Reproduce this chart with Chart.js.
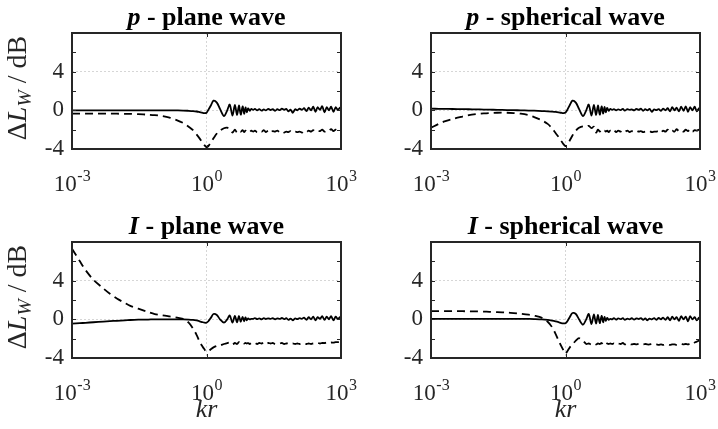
<!DOCTYPE html>
<html>
<head>
<meta charset="utf-8">
<script src="https://cdn.jsdelivr.net/npm/chart.js@4.4.1/dist/chart.umd.min.js"></script>
<style>
    html, body { margin: 0; padding: 0; background: #fff; }
    #wrap { position: relative; width: 718px; height: 429px; overflow: hidden; }
    #wrap canvas { position: absolute; }
    .title { position: absolute; width: 300px; text-align: center; font: bold 26px "Liberation Serif", serif; line-height: 26px; color: #000; white-space: nowrap; }
    .ylab { position: absolute; width: 160px; height: 30px; line-height: 30px; text-align: center; font: 28px "Liberation Serif", serif; color: #262626; transform: rotate(-90deg); white-space: nowrap; }
    .ylab sub { font-size: 70%; vertical-align: -0.25em; }
    .xlab { position: absolute; width: 100px; text-align: center; font: italic 26px "Liberation Serif", serif; line-height: 26px; color: #262626; }
</style>
</head>
<body>
<div id="wrap">
    <canvas id="c0" width="359" height="210" style="left:0;top:0"></canvas>
    <canvas id="c1" width="359" height="210" style="left:359px;top:0"></canvas>
    <canvas id="c2" width="359" height="219" style="left:0;top:210px"></canvas>
    <canvas id="c3" width="359" height="219" style="left:359px;top:210px"></canvas>
</div>
<script>
// kr values shared by every curve
const kr = [
    0.001, 0.0015, 0.002, 0.003, 0.005, 0.007, 0.01, 0.015, 0.02, 0.03, 0.05, 0.07, 0.1, 0.15, 0.2, 0.3, 0.4, 0.5, 0.6, 0.7, 0.8, 0.9,
    1.0, 1.1, 1.25, 1.43, 1.7, 2.0, 2.45, 2.9, 3.3, 3.8, 4.3, 4.8, 5.3, 5.8, 6.4, 6.9, 7.4, 7.9, 8.5, 9.2, 10,
    11, 12, 13.5, 15, 17, 19, 21, 24, 27, 30, 34, 38, 43, 48, 54, 60, 67, 75, 84, 95, 106, 120, 135, 150, 170,
    190, 215, 240, 270, 300, 340, 380, 430, 480, 540, 600, 680, 760, 850, 950, 1000
];

// p - plane wave
const pPlaneSolid = [
    0, 0, 0, 0, 0, 0, 0, 0, 0, 0, 0, 0, 0, 0, -0.01, -0.02, -0.05, -0.08, -0.12, -0.18, -0.24, -0.28,
    -0.25, 0.05, 0.5, 1.0, 0.8, 0.15, -0.6, 0.0, 0.6, -0.55, 0.55, -0.5, 0.5, -0.45, 0.4, -0.35, 0.3, -0.2, 0.2, -0.05, 0.15,
    0.05, 0.15, 0.0, 0.12, -0.03, 0.1, 0.0, 0.15, 0.03, 0.12, -0.05, 0.12, 0.02, 0.18, 0.05, 0.15, -0.1, 0.08, -0.25, 0.12,
    0.0, 0.18, 0.05, 0.22, -0.08, 0.28, 0.0, 0.38, -0.15, 0.32, 0.05, 0.42, -0.2, 0.32, 0.0, 0.38, -0.15, 0.32, 0.05, 0.28, 0.1
];
const pPlaneDash = [
    -0.35, -0.35, -0.35, -0.35, -0.35, -0.35, -0.35, -0.36, -0.37, -0.4, -0.45, -0.5, -0.58, -0.75, -0.95, -1.3, -1.7, -2.05, -2.5, -2.9, -3.3, -3.6,
    -3.8, -3.7, -3.3, -2.9, -2.4, -2.1, -1.85, -1.8, -1.9, -2.3, -2.0, -2.3, -2.1, -2.2, -2.05, -2.25, -2.1, -2.2, -2.15, -2.25, -2.1,
    -2.2, -2.1, -2.25, -2.1, -2.2, -2.05, -2.25, -2.1, -2.3, -2.15, -2.2, -2.1, -2.25, -2.15, -2.3, -2.2, -2.25, -2.15, -2.3, -2.2,
    -2.25, -2.2, -2.3, -2.15, -2.25, -2.1, -2.2, -2.05, -2.2, -2.1, -2.15, -2.0, -2.2, -2.05, -2.1, -1.95, -2.15, -2.0, -2.05, -1.9, -1.95
];

// p - spherical wave
const pSphSolid = [
    0.17, 0.16, 0.15, 0.14, 0.12, 0.11, 0.1, 0.08, 0.07, 0.05, 0.03, 0.02, 0.0, -0.02, -0.04, -0.08, -0.1, -0.13, -0.16, -0.2, -0.25, -0.28,
    -0.22, 0.05, 0.55, 1.0, 0.8, 0.15, -0.6, 0.0, 0.6, -0.55, 0.55, -0.5, 0.5, -0.45, 0.4, -0.35, 0.35, -0.2, 0.25, -0.05, 0.15,
    0.05, 0.12, 0.0, 0.1, 0.03, 0.15, -0.03, 0.12, 0.05, 0.1, 0.0, 0.15, 0.05, 0.18, -0.05, 0.12, 0.0, 0.15, -0.15, 0.1,
    0.02, 0.12, -0.05, 0.18, 0.0, 0.22, -0.1, 0.32, 0.0, 0.28, -0.1, 0.38, -0.05, 0.42, -0.15, 0.32, 0.0, 0.38, -0.1, 0.22, 0.1
];
const pSphDash = [
    -1.8, -1.4, -1.15, -0.9, -0.65, -0.5, -0.4, -0.32, -0.28, -0.25, -0.25, -0.28, -0.35, -0.5, -0.7, -1.05, -1.4, -1.85, -2.35, -2.75, -3.15, -3.5,
    -3.7, -3.55, -3.1, -2.6, -2.1, -1.8, -1.65, -1.7, -1.6, -1.85, -1.7, -2.3, -2.0, -2.2, -2.05, -2.2, -2.1, -2.2, -2.1, -2.25, -2.1,
    -2.2, -2.05, -2.25, -2.1, -2.2, -2.05, -2.2, -2.1, -2.25, -2.15, -2.2, -2.1, -2.2, -2.15, -2.25, -2.2, -2.2, -2.15, -2.25, -2.2,
    -2.2, -2.15, -2.3, -2.1, -2.2, -2.0, -2.25, -2.1, -2.2, -1.95, -2.15, -2.05, -2.2, -2.0, -2.15, -1.95, -2.2, -2.05, -2.1, -2.0, -2.1
];

// I - plane wave
const iPlaneSolid = [
    -0.45, -0.4, -0.36, -0.3, -0.24, -0.19, -0.15, -0.1, -0.07, -0.04, -0.02, 0.0, 0.0, 0.0, 0.0, 0.0, -0.02, -0.06, -0.12, -0.2, -0.28, -0.35,
    -0.35, -0.2, 0.15, 0.55, 0.45, 0.0, -0.35, 0.0, 0.4, -0.35, 0.35, -0.3, 0.35, -0.25, 0.25, -0.2, 0.2, -0.1, 0.1, 0.0, 0.05,
    0.05, 0.12, 0.02, 0.1, 0.0, 0.12, 0.03, 0.1, 0.05, 0.12, 0.0, 0.1, 0.05, 0.14, 0.02, 0.12, -0.05, 0.08, -0.1, 0.1,
    0.02, 0.12, 0.05, 0.18, -0.05, 0.22, 0.0, 0.28, -0.1, 0.22, 0.05, 0.32, -0.05, 0.28, 0.0, 0.32, -0.1, 0.28, 0.05, 0.22, 0.1
];
const iPlaneDash = [
    7.3, 6.0, 5.1, 4.1, 3.2, 2.65, 2.15, 1.7, 1.4, 1.1, 0.75, 0.55, 0.42, 0.3, 0.22, 0.05, -0.35, -0.95, -1.6, -2.3, -2.75, -3.1,
    -3.35, -3.3, -3.1, -2.9, -2.75, -2.7, -2.55, -2.45, -2.4, -2.6, -2.45, -2.55, -2.35, -2.5, -2.4, -2.5, -2.45, -2.5, -2.45, -2.55, -2.45,
    -2.5, -2.45, -2.55, -2.45, -2.5, -2.4, -2.55, -2.45, -2.5, -2.45, -2.55, -2.5, -2.5, -2.45, -2.55, -2.5, -2.5, -2.55, -2.5, -2.55,
    -2.5, -2.55, -2.5, -2.55, -2.55, -2.5, -2.55, -2.5, -2.5, -2.45, -2.5, -2.45, -2.45, -2.4, -2.45, -2.4, -2.4, -2.35, -2.35, -2.3, -2.3
];

// I - spherical wave
const iSphSolid = [
    0.05, 0.05, 0.05, 0.05, 0.05, 0.05, 0.05, 0.05, 0.05, 0.05, 0.05, 0.05, 0.05, 0.04, 0.03, 0.0, -0.06, -0.14, -0.22, -0.3, -0.38, -0.42,
    -0.4, -0.2, 0.25, 0.65, 0.55, 0.0, -0.55, 0.0, 0.55, -0.5, 0.5, -0.45, 0.45, -0.4, 0.35, -0.3, 0.25, -0.15, 0.15, -0.05, 0.05,
    0.0, 0.12, -0.03, 0.1, 0.02, 0.12, -0.05, 0.08, 0.0, 0.12, -0.03, 0.1, 0.03, 0.12, -0.05, 0.1, -0.1, 0.08, 0.0, 0.12,
    -0.05, 0.14, 0.0, 0.18, -0.05, 0.22, -0.1, 0.28, 0.0, 0.22, -0.15, 0.32, 0.0, 0.28, -0.2, 0.32, 0.0, 0.22, -0.1, 0.18, 0.0
];
const iSphDash = [
    0.85, 0.85, 0.85, 0.85, 0.84, 0.83, 0.82, 0.8, 0.78, 0.75, 0.7, 0.65, 0.58, 0.48, 0.38, 0.15, -0.25, -0.8, -1.5, -2.2, -2.75, -3.2,
    -3.55, -3.3, -2.9, -2.6, -2.2, -1.95, -2.2, -2.55, -2.5, -2.6, -2.5, -2.6, -2.5, -2.55, -2.45, -2.6, -2.5, -2.6, -2.5, -2.55, -2.5,
    -2.55, -2.5, -2.6, -2.5, -2.55, -2.45, -2.6, -2.5, -2.55, -2.6, -2.55, -2.6, -2.55, -2.6, -2.6, -2.55, -2.6, -2.6, -2.55, -2.6,
    -2.6, -2.65, -2.6, -2.65, -2.6, -2.6, -2.65, -2.6, -2.6, -2.65, -2.6, -2.55, -2.6, -2.55, -2.6, -2.5, -2.55, -2.4, -2.3, -2.2, -2.3
];

// panel texts and ticks
const titleSymbols = ['p', 'p', 'I', 'I'];
const titleTexts = [' - plane wave', ' - spherical wave', ' - plane wave', ' - spherical wave'];
const xTickValues = [1e-3, 1e0, 1e3];
const xTickExponents = ['-3', '0', '3'];
const yTickLabels = ['-4', '0', '4'];
const yLabelHtml = '&Delta;<i>L</i><sub><i>W</i></sub> / dB';
const xLabelText = 'kr';

const axisColor = '#262626';
const gridColor = '#d6d6d6';

[pPlaneSolid, pPlaneDash, pSphSolid, pSphDash, iPlaneSolid, iPlaneDash, iSphSolid, iSphDash].forEach((arr, i) => {
    if (arr.length !== kr.length) throw new Error('series ' + i + ' has ' + arr.length + ' values, kr has ' + kr.length);
});

const framePlugin = {
    id: 'frame',
    afterDraw(chart) {
        const ctx = chart.ctx;
        const a = chart.chartArea;
        const xs = chart.scales.x, ys = chart.scales.y;
        ctx.save();
        ctx.strokeStyle = axisColor;
        ctx.lineWidth = 1;
        ctx.beginPath();
        [-2, 0, 2, 4, 6].forEach(v => {
            const py = Math.round(ys.getPixelForValue(v)) + 0.5;
            ctx.moveTo(a.left, py); ctx.lineTo(a.left + 4, py);
            ctx.moveTo(a.right - 4, py); ctx.lineTo(a.right, py);
        });
        const px1 = Math.round(xs.getPixelForValue(1)) + 0.5;
        ctx.moveTo(px1, a.bottom); ctx.lineTo(px1, a.bottom - 4);
        ctx.moveTo(px1, a.top); ctx.lineTo(px1, a.top + 4);
        ctx.stroke();
        ctx.lineWidth = 2;
        ctx.strokeRect(a.left, a.top, a.right - a.left, a.bottom - a.top);

        // x tick labels: 10 with a raised exponent
        ctx.fillStyle = axisColor;
        ctx.textBaseline = 'alphabetic';
        ctx.textAlign = 'left';
        xTickValues.forEach((v, i) => {
            const px = xs.getPixelForValue(v);
            ctx.font = '23px "Liberation Serif"';
            const w1 = ctx.measureText('10').width;
            ctx.font = '16px "Liberation Serif"';
            const w2 = ctx.measureText(xTickExponents[i]).width;
            const x0 = px - (w1 + w2) / 2;
            const base = a.bottom + 42;
            ctx.font = '23px "Liberation Serif"';
            ctx.fillText('10', x0, base);
            ctx.font = '16px "Liberation Serif"';
            ctx.fillText(xTickExponents[i], x0 + w1 + 0.5, base - 10);
        });
        ctx.restore();
    }
};

function makeChart(id, solid, dashed, top, xAxisHeight) {
    const ctx = document.getElementById(id).getContext('2d');
    return new Chart(ctx, {
        type: 'line',
        data: {
            datasets: [
                {
                    data: kr.map((k, i) => ({x: k, y: solid[i]})),
                    borderColor: '#000',
                    borderWidth: 1.8,
                    pointRadius: 0,
                    tension: 0.3
                },
                {
                    data: kr.map((k, i) => ({x: k, y: dashed[i]})),
                    borderColor: '#000',
                    borderWidth: 1.8,
                    borderDash: [8, 5],
                    pointRadius: 0,
                    tension: 0.3
                }
            ]
        },
        options: {
            responsive: false,
            animation: false,
            layout: { padding: { top: top, right: 18, left: 0, bottom: 0 } },
            plugins: { legend: { display: false }, tooltip: { enabled: false } },
            scales: {
                x: {
                    type: 'logarithmic',
                    min: 1e-3,
                    max: 1e3,
                    afterBuildTicks: s => { s.ticks = xTickValues.map(v => ({value: v})); },
                    afterFit: s => { s.height = xAxisHeight; },
                    ticks: { display: false },
                    border: { display: false, dash: [2, 2] },
                    grid: {
                        drawTicks: false,
                        lineWidth: 1,
                        color: c => (c.tick && c.tick.value === 1) ? gridColor : 'rgba(0,0,0,0)'
                    }
                },
                y: {
                    min: -4,
                    max: 8,
                    afterFit: s => { s.width = 72; },
                    ticks: {
                        stepSize: 2,
                        padding: 8,
                        color: axisColor,
                        font: { family: 'Liberation Serif', size: 23 },
                        callback: v => yTickLabels.includes(String(v)) ? String(v) : ''
                    },
                    border: { display: false, dash: [2, 2] },
                    grid: {
                        drawTicks: false,
                        lineWidth: 1,
                        color: c => (c.tick && (c.tick.value === -4 || c.tick.value === 8)) ? 'rgba(0,0,0,0)' : gridColor
                    }
                }
            }
        },
        plugins: [framePlugin]
    });
}

makeChart('c0', pPlaneSolid, pPlaneDash, 33, 61);
makeChart('c1', pSphSolid, pSphDash, 33, 61);
makeChart('c2', iPlaneSolid, iPlaneDash, 32, 71);
makeChart('c3', iSphSolid, iSphDash, 32, 71);

// titles and axis labels as html text
const wrap = document.getElementById('wrap');
const titleCenters = [[206.5, 4], [565.5, 4], [206.5, 213], [565.5, 213]];
titleCenters.forEach((p, i) => {
    const d = document.createElement('div');
    d.className = 'title';
    d.style.left = (p[0] - 150) + 'px';
    d.style.top = p[1] + 'px';
    d.innerHTML = '<i>' + titleSymbols[i] + '</i>' + titleTexts[i];
    wrap.appendChild(d);
});
[88, 297].forEach(cy => {
    const d = document.createElement('div');
    d.className = 'ylab';
    d.style.left = (16 - 80) + 'px';
    d.style.top = (cy - 15) + 'px';
    d.innerHTML = yLabelHtml;
    wrap.appendChild(d);
});
[206.5, 565.5].forEach(cx => {
    const d = document.createElement('div');
    d.className = 'xlab';
    d.style.left = (cx - 50) + 'px';
    d.style.top = '396px';
    d.textContent = xLabelText;
    wrap.appendChild(d);
});
</script>
</body>
</html>
